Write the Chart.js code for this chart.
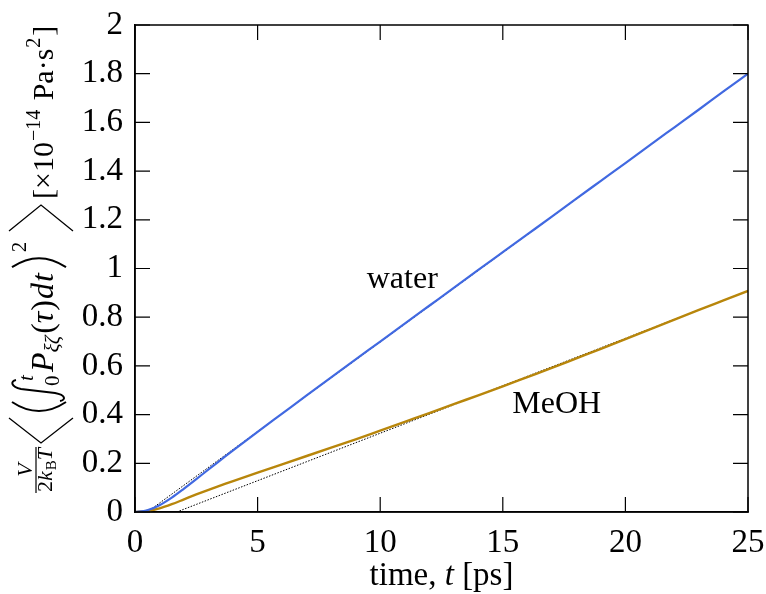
<!DOCTYPE html>
<html><head><meta charset="utf-8">
<script src="https://cdn.jsdelivr.net/npm/chart.js@4"></script>
<style>html,body{margin:0;padding:0;background:#fff}#wrap{width:766px;height:594px;position:relative}</style>
</head><body><div id="wrap"><canvas id="c"></canvas></div>
<script>
// ---- data ----
const times = [0,0.5,1,1.5,2,2.5,3,3.5,4,5,6,7,8,9,10,11,12,13,14,15,16,17,18,19,20,21,22,23,24,25];
const water = [0,0.007,0.028,0.059,0.096,0.135,0.175,0.214,0.253,0.329,0.404,0.479,0.553,0.627,0.70,0.774,0.847,0.92,0.994,1.067,1.14,1.213,1.287,1.36,1.433,1.507,1.58,1.653,1.727,1.80];
const meoh  = [0,0.004,0.015,0.032,0.052,0.072,0.091,0.109,0.127,0.162,0.196,0.230,0.264,0.298,0.334,0.370,0.406,0.443,0.479,0.516,0.554,0.592,0.631,0.670,0.710,0.750,0.790,0.830,0.869,0.908];
const waterFitT = [0.5, 25];
const waterFitY = [0, 1.80];
const meohFitT = [1.7, 25];
const meohFitY = [0, 0.908];
const xTickLabels = ['0','5','10','15','20','25'];
const yTickLabels = ['0','0.2','0.4','0.6','0.8','1','1.2','1.4','1.6','1.8','2'];
const seriesNames = ['water','MeOH'];
const labelPos = [[10.9, 0.953],[17.2, 0.443]];

const FONT = '"Liberation Serif", "Times New Roman", serif';
Chart.defaults.font.family = FONT;
Chart.defaults.color = '#000';

const pts = (xs, ys) => xs.map((x,i)=>({x, y: ys[i]}));

function drawYTitle(ctx){
  ctx.save();
  ctx.translate(53, 497);
  ctx.rotate(-Math.PI/2);
  ctx.fillStyle = '#000'; ctx.strokeStyle = '#000';
  ctx.textBaseline = 'alphabetic'; ctx.textAlign = 'left';
  const fnt = (s,it)=>`${it?'italic ':''}${s}px ${FONT}`;
  const txt = (s,u,v,size,it)=>{ ctx.font = fnt(size,it); ctx.fillText(s,u,v); return u + ctx.measureText(s).width; };
  // fraction V / 2 k_B T
  let u0 = 5, du = u0;
  du = txt('2', du, -1, 22, false);
  du = txt('k', du, -1, 22, true);
  du = txt('B', du+1, 3, 15, false);
  du = txt('T', du, -1, 22, true);
  ctx.font = fnt(22,true);
  const vw = ctx.measureText('V').width;
  txt('V', u0 + (du-u0-vw)/2, -21, 22, true);
  ctx.lineWidth = 1.2;
  ctx.beginPath(); ctx.moveTo(u0-1,-17); ctx.lineTo(du+1,-17); ctx.stroke();
  // big angle bracket left
  ctx.lineWidth = 1.3;
  ctx.beginPath(); ctx.moveTo(79,-44); ctx.lineTo(54,-12); ctx.lineTo(79,20); ctx.stroke();
  // big paren left
  ctx.lineWidth = 2;
  ctx.beginPath(); ctx.moveTo(95,-41); ctx.quadraticCurveTo(77,-14,95,13); ctx.stroke();
  // integral
  ctx.lineWidth = 2;
  ctx.beginPath(); ctx.moveTo(117,-37); ctx.bezierCurveTo(116,-43,110,-42,108,-32);
  ctx.lineTo(104,2); ctx.bezierCurveTo(102,13,97,13,96,7); ctx.stroke();
  txt('t', 116, -20, 21, true);
  txt('0', 111, 6, 21, false);
  // P_{xi zeta}
  let u = txt('P', 125, 0, 32, true);
  u = txt('ξζ', u, 6, 21, true);
  u = txt('(', u+2, 0, 32, false);
  u = txt('τ', u, 0, 32, true);
  u = txt(')', u+1, 0, 32, false);
  u = txt('d', u+1, 0, 32, true);
  u = txt('t', u+1, 0, 32, true);
  // big paren right
  const pr = u + 6;
  ctx.lineWidth = 2;
  ctx.beginPath(); ctx.moveTo(pr,-41); ctx.quadraticCurveTo(pr+18,-14,pr,13); ctx.stroke();
  txt('2', pr+15, -27, 21, false);
  // big angle bracket right
  ctx.lineWidth = 1.3;
  ctx.beginPath(); ctx.moveTo(266,-44); ctx.lineTo(292,-12); ctx.lineTo(266,20); ctx.stroke();
  // units
  u = txt('[×10', 298, 0, 30, false);
  u = txt('−14', u+1, -13, 20, false);
  u = txt(' Pa·s', u+2, 0, 30, false);
  u = txt('2', u+1, -13, 20, false);
  txt(']', u+2, 0, 30, false);
  ctx.restore();
}

const deco = {
  id: 'deco',
  afterDraw(chart){
    const {ctx, chartArea: a, scales: {x, y}} = chart;
    ctx.save();
    ctx.strokeStyle = '#000';
    ctx.lineWidth = 1.5;
    ctx.strokeRect(a.left, a.top, a.right-a.left, a.bottom-a.top);
    const L = 15;
    ctx.lineWidth = 1.2;
    ctx.beginPath();
    x.ticks.forEach(t=>{ const p = x.getPixelForValue(t.value);
      ctx.moveTo(p, a.bottom); ctx.lineTo(p, a.bottom-L);
      ctx.moveTo(p, a.top); ctx.lineTo(p, a.top+L); });
    y.ticks.forEach(t=>{ const p = y.getPixelForValue(t.value);
      ctx.moveTo(a.left, p); ctx.lineTo(a.left+L, p);
      ctx.moveTo(a.right, p); ctx.lineTo(a.right-L, p); });
    ctx.stroke();
    // series labels
    ctx.fillStyle = '#000';
    ctx.font = `32px ${FONT}`;
    ctx.textAlign = 'center'; ctx.textBaseline = 'middle';
    seriesNames.forEach((n,i)=>{
      ctx.fillText(n, x.getPixelForValue(labelPos[i][0]), y.getPixelForValue(labelPos[i][1]));
    });
    // x title: time, t [ps]
    ctx.textBaseline = 'alphabetic'; ctx.textAlign = 'left';
    const parts = [['time, ', false], ['t', true], [' [ps]', false]];
    let w = 0;
    parts.forEach(p=>{ ctx.font = `${p[1]?'italic ':''}33px ${FONT}`; w += ctx.measureText(p[0]).width; });
    let cx = (a.left + a.right)/2 - w/2;
    parts.forEach(p=>{ ctx.font = `${p[1]?'italic ':''}33px ${FONT}`; ctx.fillText(p[0], cx, 585); cx += ctx.measureText(p[0]).width; });
    drawYTitle(ctx);
    ctx.restore();
  }
};

new Chart(document.getElementById('c'), {
  type: 'line',
  data: {
    datasets: [
      { label: 'water', data: pts(times, water), borderColor: '#4169E1', borderWidth: 2.2, pointRadius: 0, cubicInterpolationMode: 'monotone', order: 0 },
      { label: 'MeOH', data: pts(times, meoh), borderColor: '#B8860B', borderWidth: 2.4, pointRadius: 0, cubicInterpolationMode: 'monotone', order: 1 },
      { label: 'water fit', data: pts(waterFitT, waterFitY), borderColor: '#000', borderWidth: 1, borderDash: [1.5, 1.5], pointRadius: 0, order: 2 },
      { label: 'MeOH fit', data: pts(meohFitT, meohFitY), borderColor: '#000', borderWidth: 1, borderDash: [1.5, 1.5], pointRadius: 0, order: 3 }
    ]
  },
  options: {
    responsive: true, maintainAspectRatio: false, animation: false,
    layout: { padding: { top: 25, right: 18, left: 0, bottom: 0 } },
    plugins: { legend: { display: false }, tooltip: { enabled: false } },
    scales: {
      x: { type: 'linear', min: 0, max: 25,
        ticks: { stepSize: 5, padding: 12, font: { size: 33 }, color: '#000', maxRotation: 0,
          callback: (v)=> xTickLabels[Math.round(v/5)] },
        grid: { display: false, drawTicks: false },
        border: { display: true, color: '#000', width: 1.5 },
        afterFit: s => { s.height = 82; s.paddingLeft = 0; s.paddingRight = 0; } },
      y: { type: 'linear', min: 0, max: 2,
        ticks: { stepSize: 0.2, padding: 12, font: { size: 33 }, color: '#000',
          callback: (v)=> yTickLabels[Math.round(v/0.2)] },
        grid: { display: false, drawTicks: false },
        border: { display: true, color: '#000', width: 1.5 },
        afterFit: s => { s.width = 135; s.paddingTop = 0; s.paddingBottom = 0; } }
    }
  },
  plugins: [deco]
});
</script></body></html>
